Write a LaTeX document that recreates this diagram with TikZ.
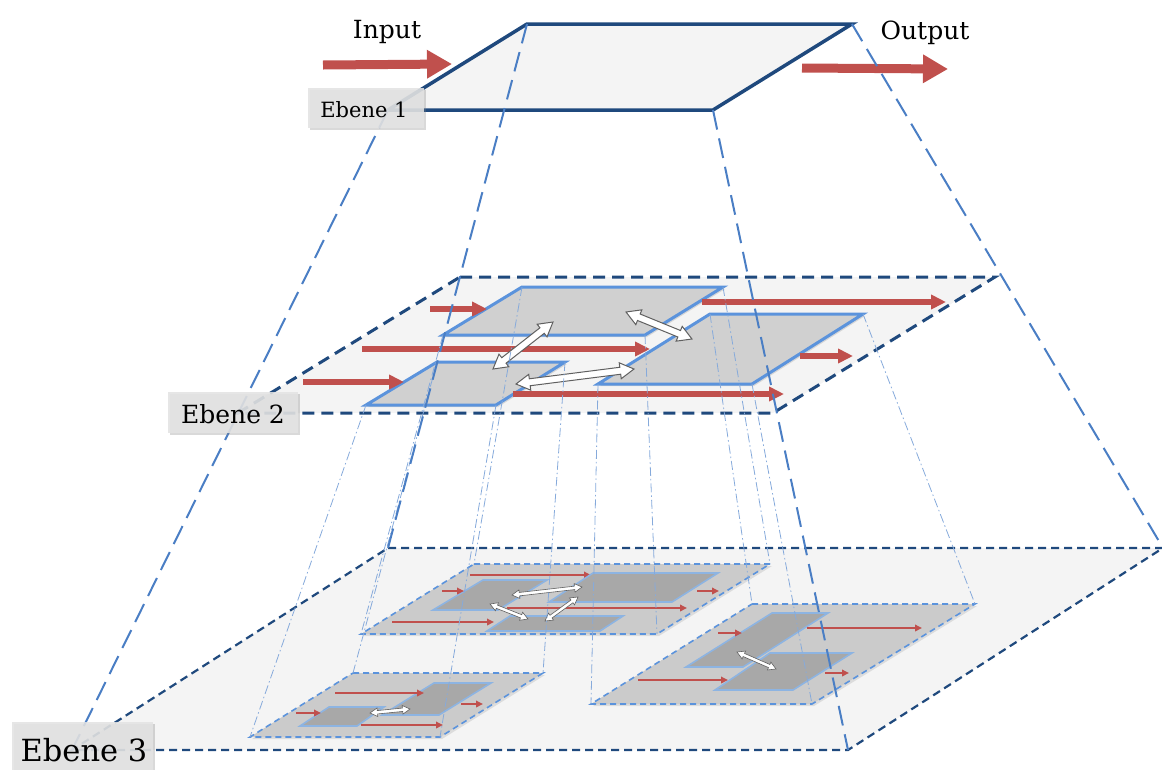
\documentclass[tikz,border=0pt]{standalone}
\usepackage{fontspec}
\setmainfont{DejaVu Serif}
\usetikzlibrary{arrows.meta,shapes.arrows,calc,shadows}
\definecolor{navy}{HTML}{1F497D}
\definecolor{projblue}{HTML}{4A7EC4}
\definecolor{thinblue}{HTML}{86AADB}
\definecolor{planefill}{HTML}{F4F4F4}
\definecolor{piecefill}{HTML}{D0D0D0}
\definecolor{pieceline}{HTML}{5B93DC}
\definecolor{subfill}{HTML}{CBCBCB}
\definecolor{darkpiece}{HTML}{A8A8A8}
\definecolor{lightline}{HTML}{8DB4E2}
\definecolor{redarrow}{HTML}{C0504D}
\definecolor{labelfill}{HTML}{E3E3E3}
\tikzset{
  lvlone/.style={draw=navy, line width=3.5pt, fill=planefill},
  lvltwo/.style={draw=navy, line width=3pt, dash pattern=on 12pt off 7pt, fill=planefill},
  lvlthree/.style={draw=navy, line width=2.2pt, dash pattern=on 8pt off 5pt, fill=planefill},
  proj/.style={draw=projblue, line width=2pt, dash pattern=on 20pt off 9pt},
  guide/.style={draw=thinblue, line width=0.8pt, dash pattern=on 9pt off 3pt on 1.5pt off 3pt},
  piecetwo/.style={fill=piecefill, draw=pieceline, line width=3pt, drop shadow={shadow xshift=2pt, shadow yshift=-2pt, opacity=0.25}},
  subplane/.style={fill=subfill, draw=pieceline, line width=1.6pt, dash pattern=on 6pt off 4pt, drop shadow={shadow xshift=2pt, shadow yshift=-2pt, opacity=0.2}},
  piecethree/.style={fill=darkpiece, draw=lightline, line width=1.6pt},
  bigred/.style={draw=redarrow, line width=9pt, -{Triangle[length=25pt,width=27pt]}},
  midred/.style={draw=redarrow, line width=5.5pt, -{Triangle[length=15pt,width=14pt]}},
  smallred/.style={draw=redarrow, line width=2pt, -{Triangle[length=7pt,width=6.5pt]}},
  wdbig/.style={double arrow, draw=gray!75!black, fill=white, line width=1pt, inner xsep=0pt, inner ysep=3pt, double arrow head extend=4.5pt, double arrow tip angle=60, minimum width=0pt},
  wdsmall/.style={double arrow, draw=gray!75!black, fill=white, line width=0.6pt, inner xsep=0pt, inner ysep=1.4pt, double arrow head extend=2.6pt, double arrow tip angle=60, minimum width=0pt},
  lvllabel/.style={fill=labelfill, fill opacity=0.88, text opacity=1, inner sep=0pt, drop shadow={shadow xshift=2pt, shadow yshift=-2pt, opacity=0.3}},
}
\newcommand\wdarrow[3]{%
  \path let \p1=#2, \p2=#3, \n1={atan2(\y2-\y1,\x2-\x1)}, \n2={veclen(\x2-\x1,\y2-\y1)} in
    node[#1, minimum height=\n2, rotate=\n1] at ($#2!0.5!#3$) {};}
\begin{document}
\begin{tikzpicture}[x=1pt,y=-1pt]
\useasboundingbox (0,0) rectangle (1162,769);
% ---------- corners ----------
\coordinate (la1) at (527,24);  \coordinate (lb1) at (852,24);  \coordinate (lc1) at (713,110); \coordinate (ld1) at (388,110);
\coordinate (la2) at (460,277); \coordinate (lb2) at (995,277); \coordinate (lc2) at (773,413); \coordinate (ld2) at (238,413);
\coordinate (la3) at (388,548); \coordinate (lb3) at (1163,548); \coordinate (lc3) at (848,750); \coordinate (ld3) at (72,750);
% level 2 pieces
\coordinate (Aa) at (522,287); \coordinate (Ab) at (723,287); \coordinate (Ac) at (645,335); \coordinate (Ad) at (443,335);
\coordinate (Ba) at (437,362); \coordinate (Bb) at (565,362); \coordinate (Bc) at (496,405); \coordinate (Bd) at (366,405);
\coordinate (Ca) at (710,314); \coordinate (Cb) at (863,314); \coordinate (Cc) at (752,384); \coordinate (Cd) at (598,384);
% level 3 sub planes
\coordinate (Pa) at (474,564); \coordinate (Pb) at (770,564); \coordinate (Pc) at (657,634); \coordinate (Pd) at (361,634);
\coordinate (Qa) at (752,604); \coordinate (Qb) at (975,604); \coordinate (Qc) at (812,704); \coordinate (Qd) at (591,704);
\coordinate (Ra) at (353,673); \coordinate (Rb) at (543,673); \coordinate (Rc) at (440,737); \coordinate (Rd) at (250,737);

% ---------- Level 3 ----------
\path[lvlthree] (la3) -- (lb3) -- (lc3) -- (ld3) -- cycle;
\path[subplane] (Pa) -- (Pb) -- (Pc) -- (Pd) -- cycle;
\path[subplane] (Qa) -- (Qb) -- (Qc) -- (Qd) -- cycle;
\path[subplane] (Ra) -- (Rb) -- (Rc) -- (Rd) -- cycle;
% pieces in P
\draw[smallred] (470,575) -- (591,575);
\draw[piecethree] (483,580) -- (547,580) -- (498,610) -- (433,610) -- cycle;
\draw[piecethree] (593,573) -- (718,573) -- (672,602) -- (549,602) -- cycle;
\draw[smallred] (507,608) -- (687,608);
\draw[piecethree] (510,616) -- (623,616) -- (600,631) -- (487,631) -- cycle;
\draw[smallred] (442,591) -- (464,591);
\draw[smallred] (697,591) -- (719,591);
\draw[smallred] (392,622) -- (494,622);
\wdarrow{wdsmall}{(512,595)}{(582,587)}
\wdarrow{wdsmall}{(490,604)}{(528,619)}
\wdarrow{wdsmall}{(545,621)}{(578,597)}
% pieces in Q
\draw[piecethree] (772,613) -- (828,613) -- (743,667) -- (686,667) -- cycle;
\draw[piecethree] (770,653) -- (852,653) -- (793,690) -- (715,690) -- cycle;
\draw[smallred] (718,633) -- (742,633);
\draw[smallred] (807,628) -- (922,628);
\draw[smallred] (638,680) -- (728,680);
\draw[smallred] (825,673) -- (849,673);
\wdarrow{wdsmall}{(737,652)}{(776,669)}
% pieces in R
\draw[piecethree] (434,683) -- (491,683) -- (439,715) -- (382,715) -- cycle;
\draw[piecethree] (329,707) -- (384,707) -- (357,726) -- (300,726) -- cycle;
\draw[smallred] (335,693) -- (424,693);
\draw[smallred] (296,713) -- (321,713);
\draw[smallred] (461,704) -- (483,704);
\draw[smallred] (361,725) -- (443,725);
\wdarrow{wdsmall}{(370,713)}{(410,709)}

% ---------- Level 2 ----------
\path[lvltwo] (la2) -- (lb2) -- (lc2) -- (ld2) -- cycle;
\path[piecetwo] (Aa) -- (Ab) -- (Ac) -- (Ad) -- cycle;
\path[piecetwo] (Ca) -- (Cb) -- (Cc) -- (Cd) -- cycle;
\path[piecetwo] (Ba) -- (Bb) -- (Bc) -- (Bd) -- cycle;
\draw[midred] (430,309) -- (487,309);
\draw[midred] (362,349) -- (650,349);
\draw[midred] (303,382) -- (404,382);
\draw[midred] (513,394) -- (784,394);
\draw[midred] (702,302) -- (946,302);
\draw[midred] (800,356) -- (853,356);
\wdarrow{wdbig}{(493,369)}{(553,322)}
\wdarrow{wdbig}{(516,384)}{(634,369)}
\wdarrow{wdbig}{(626,312)}{(692,339)}

% ---------- guide lines (level 2 -> level 3) ----------
\foreach \s/\t in {Aa/Pa, Ab/Pb, Ac/Pc, Ad/Pd, Ba/Ra, Bb/Rb, Bc/Rc, Bd/Rd, Ca/Qa, Cb/Qb, Cc/Qc, Cd/Qd}
  \draw[guide] (\s) -- (\t);

% ---------- Level 1 ----------
\draw[lvlone] (la1) -- (lb1) -- (lc1) -- (ld1) -- cycle;
\draw[bigred] (323,65) -- (452,64);
\draw[bigred] (802,68) -- (948,69);

% ---------- projection lines ----------
\draw[proj] (la1) -- (la3);
\draw[proj] (lb1) -- (lb3);
\draw[proj] (lc1) -- (lc3);
\draw[proj] (ld1) -- (ld3);

% ---------- texts ----------
\node[anchor=base, font=\fontsize{25}{30}\selectfont] (tin) at (387,38) {Input};
\node[anchor=base, font=\fontsize{25}{30}\selectfont] (tout) at (925,39) {Output};
\path[lvllabel] (308,88) rectangle (424,128);
\node[anchor=base, font=\fontsize{21}{25}\selectfont] (e1) at (364,117) {Ebene 1};
\path[lvllabel] (168,392) rectangle (298,433);
\node[anchor=base, font=\fontsize{25}{30}\selectfont] (e2) at (233,423) {Ebene 2};
\path[lvllabel] (12,722) rectangle (153,780);
\node[anchor=base, font=\fontsize{30.5}{36}\selectfont] (e3) at (84,761) {Ebene 3};
\end{tikzpicture}
\end{document}
